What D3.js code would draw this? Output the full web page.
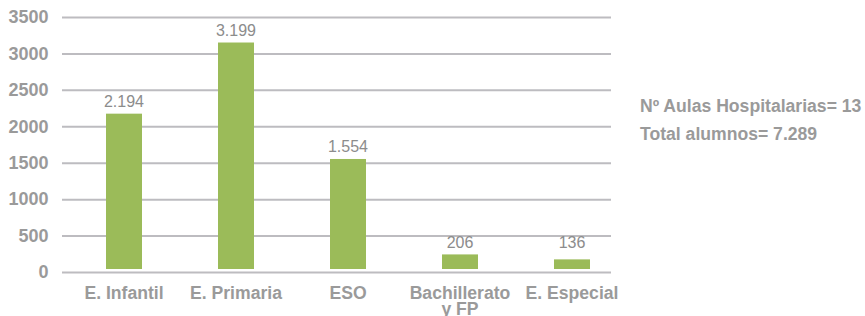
<!DOCTYPE html>
<html>
<head>
<meta charset="utf-8">
<script src="https://cdn.jsdelivr.net/npm/d3@7"></script>
<style>
  html, body { margin: 0; padding: 0; background: #fff; }
  svg { display: block; }
  text { font-family: "Liberation Sans", Arial, sans-serif; }
</style>
</head>
<body>
<svg id="chart" width="865" height="316"></svg>
<script>
const categories = ["E. Infantil", "E. Primaria", "ESO", "Bachillerato\ny FP", "E. Especial"];
const values = [2194, 3199, 1554, 206, 136];
const valueLabels = ["2.194", "3.199", "1.554", "206", "136"];
const tickValues = [0, 500, 1000, 1500, 2000, 2500, 3000, 3500];
const sideNotes = ["Nº Aulas Hospitalarias= 13", "Total alumnos= 7.289"];

const svg = d3.select("#chart");
const gridLeft = 62, gridRight = 611;

const x = d3.scaleBand()
  .domain(categories)
  .range([68, 628])
  .paddingInner(0.6786)
  .paddingOuter(0.3393);

// scale for gridlines / tick labels
const yAxis = d3.scaleLinear().domain([0, 3500]).range([272, 17]);
// scale for bars (bars start slightly above the baseline in the reference)
const yBar = d3.scaleLinear().domain([0, 3500]).range([269, 269 - 3500 * 0.0708]);

const axis = d3.axisLeft(yAxis)
  .tickValues(tickValues)
  .tickFormat(d3.format("d"))
  .tickSize(-(gridRight - gridLeft))
  .tickPadding(13.5);

const gAxis = svg.append("g")
  .attr("transform", `translate(${gridLeft},0)`)
  .call(axis);
gAxis.select(".domain").remove();
gAxis.selectAll(".tick line")
  .attr("stroke", "#bdbcc0")
  .attr("stroke-width", 2);
gAxis.selectAll(".tick text")
  .attr("fill", "#9a9a9a")
  .attr("font-size", "18px")
  .attr("font-weight", "bold")
  .attr("font-family", "'Liberation Sans', Arial, sans-serif");

// bars
svg.append("g").selectAll("rect")
  .data(values)
  .join("rect")
  .attr("x", (d, i) => x(categories[i]))
  .attr("width", x.bandwidth())
  .attr("y", d => yBar(d))
  .attr("height", d => yBar(0) - yBar(d))
  .attr("fill", "#9bbb59");

// value labels
svg.append("g").selectAll("text")
  .data(values)
  .join("text")
  .attr("x", (d, i) => x(categories[i]) + x.bandwidth() / 2)
  .attr("y", d => Math.min(yBar(d) - 6.5, 248))
  .attr("text-anchor", "middle")
  .attr("fill", "#8c8c8c")
  .attr("font-size", "16px")
  .text((d, i) => valueLabels[i]);

// category labels
const catG = svg.append("g");
categories.forEach((c, i) => {
  const lines = c.split("\n");
  const t = catG.append("text")
    .attr("x", x(c) + x.bandwidth() / 2)
    .attr("y", 299)
    .attr("text-anchor", "middle")
    .attr("fill", "#9a9a9a")
    .attr("font-size", "17.6px")
    .attr("font-weight", "bold");
  lines.forEach((l, j) => {
    t.append("tspan")
      .attr("x", x(c) + x.bandwidth() / 2)
      .attr("dy", j === 0 ? 0 : 16)
      .text(l);
  });
});

// side notes
svg.append("g").selectAll("text")
  .data(sideNotes)
  .join("text")
  .attr("x", 640)
  .attr("y", (d, i) => 112 + i * 28)
  .attr("fill", "#9a9a9a")
  .attr("font-size", "17.6px")
  .attr("font-weight", "bold")
  .text(d => d);
</script>
</body>
</html>
